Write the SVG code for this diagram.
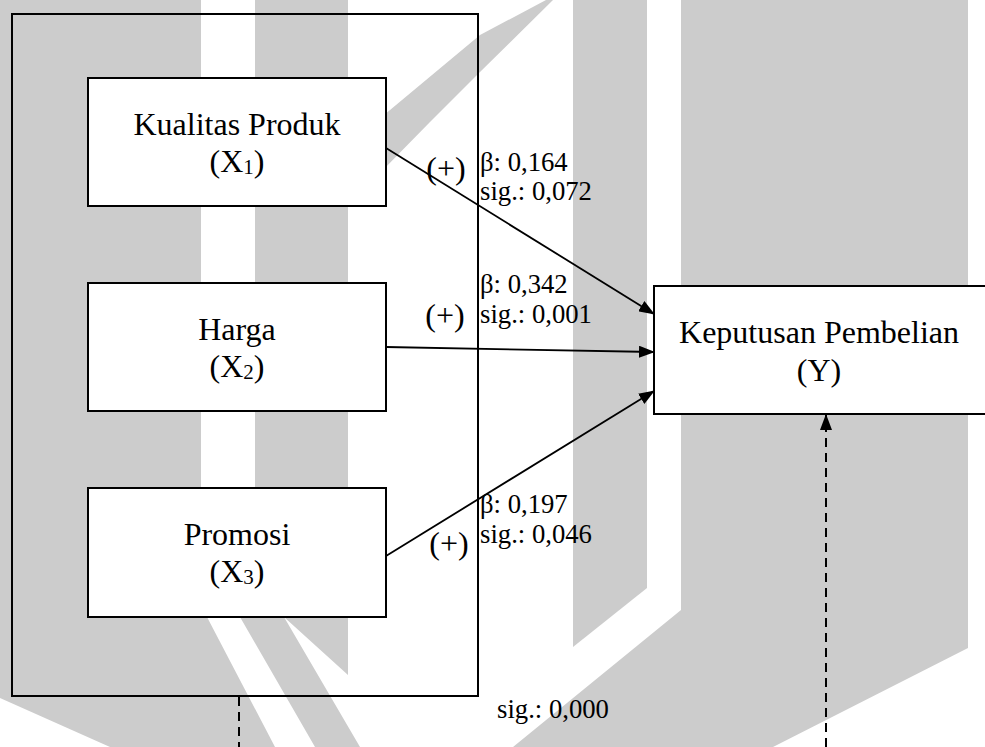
<svg xmlns="http://www.w3.org/2000/svg" width="985" height="747" viewBox="0 0 985 747">
<style>
.wm{fill:#cccccc;stroke:none}
.box{fill:#ffffff;stroke:#000;stroke-width:2}
.frame{fill:none;stroke:#000;stroke-width:2}
.t{font-family:"Liberation Serif","Times New Roman",serif;font-size:32px;fill:#000}
.c{text-anchor:middle}
.lb{font-family:"Liberation Serif","Times New Roman",serif;font-size:26.7px;fill:#000}
.ar{fill:none;stroke:#000;stroke-width:1.8}
.ds{fill:none;stroke:#000;stroke-width:2;stroke-dasharray:9 6}
</style>
<defs>
<marker id="ah" markerUnits="userSpaceOnUse" markerWidth="16" markerHeight="12" refX="15" refY="6" orient="auto">
<path d="M0,0 L16,6 L0,12 z" fill="#000"/>
</marker>
</defs>
<rect x="0" y="0" width="985" height="747" fill="#ffffff"/>
<g id="watermark">
<polygon class="wm" points="0,0 201,0 201,560 207,617 275,747 110,747 0,698"/>
<polygon class="wm" points="255,0 348,0 348,145 480,35 546,0 553,0 480,72 430,122 380,173 348,205 348,675 284,617 360,747 315,747 240,617 255,590"/>
<polygon class="wm" points="573,0 647,0 647,588 573,647"/>
<polygon class="wm" points="681,0 968,0 968,648 773,747 513,747 681,610"/>
</g>
<g id="group-frame">
<rect class="frame" x="12" y="14" width="466" height="682"/>
</g>
<g id="x1">
<rect class="box" x="88" y="78" width="298" height="128"/>
<text class="t c" x="237" y="135">Kualitas Produk</text>
<text class="t c" x="237" y="172">(X<tspan font-size="21" dy="2">1</tspan><tspan dy="-2">)</tspan></text>
</g>
<g id="x2">
<rect class="box" x="88" y="283" width="298" height="128"/>
<text class="t c" x="237" y="340">Harga</text>
<text class="t c" x="237" y="377">(X<tspan font-size="21" dy="2">2</tspan><tspan dy="-2">)</tspan></text>
</g>
<g id="x3">
<rect class="box" x="88" y="488" width="298" height="129"/>
<text class="t c" x="237" y="545">Promosi</text>
<text class="t c" x="237" y="582">(X<tspan font-size="21" dy="2">3</tspan><tspan dy="-2">)</tspan></text>
</g>
<g id="y">
<rect class="box" x="654" y="286" width="340" height="128"/>
<text class="t c" x="819" y="343">Keputusan Pembelian</text>
<text class="t c" x="819" y="381">(Y)</text>
</g>
<g id="connectors">
<line class="ar" x1="386" y1="148" x2="654" y2="314" marker-end="url(#ah)"/>
<line class="ar" x1="386" y1="347" x2="654" y2="352" marker-end="url(#ah)"/>
<line class="ar" x1="386" y1="556" x2="654" y2="391" marker-end="url(#ah)"/>
<line class="ds" x1="239" y1="697" x2="239" y2="747"/>
<line class="ds" x1="826" y1="747" x2="826" y2="415" marker-end="url(#ah)"/>
</g>
<g id="labels">
<text class="t c" x="446" y="179">(+)</text>
<text class="lb" x="480" y="171">β: 0,164</text>
<text class="lb" x="480" y="200">sig.: 0,072</text>
<text class="lb" x="480" y="293">β: 0,342</text>
<text class="lb" x="480" y="323">sig.: 0,001</text>
<text class="t c" x="445" y="326">(+)</text>
<text class="lb" x="480" y="513">β: 0,197</text>
<text class="lb" x="480" y="543">sig.: 0,046</text>
<text class="t c" x="449" y="554">(+)</text>
<text class="lb" x="497" y="718">sig.: 0,000</text>
</g>
</svg>
